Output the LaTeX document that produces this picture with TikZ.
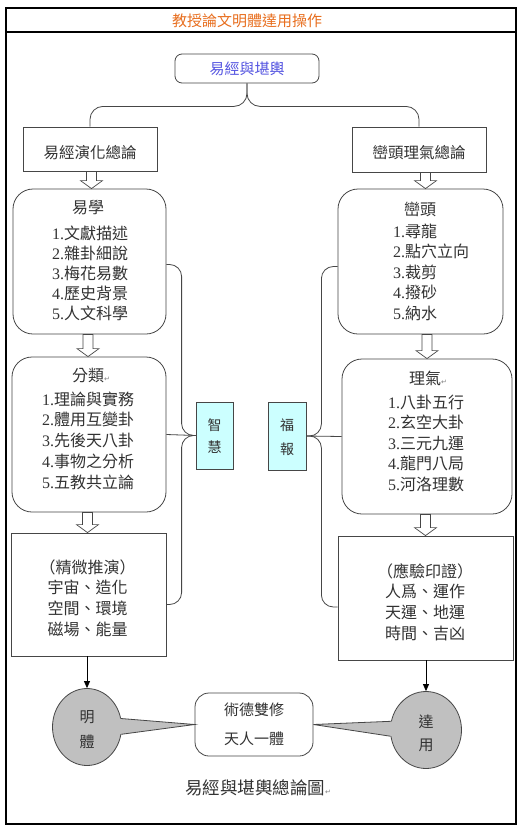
\documentclass[tikz,border=0pt]{standalone}
\usepackage{fontspec}
\setmainfont{Liberation Serif}
\newfontfamily\cjk{Noto Sans CJK TC}
\newfontfamily\dvs{DejaVu Sans}
\usetikzlibrary{calc,shapes.geometric,arrows.meta}
\definecolor{ln}{RGB}{70,70,70}
\definecolor{tx}{RGB}{50,50,50}
\definecolor{ttl}{RGB}{232,110,30}
\definecolor{tbl}{RGB}{85,85,225}
\definecolor{cgray}{RGB}{192,192,192}
\definecolor{ccyan}{RGB}{204,255,255}
\newcommand\pmark{{\dvs\fontsize{7}{7}\selectfont\color{gray}↵}}
\newcommand\blkarr[3]{\draw[hollowarr] let \p1=(#1.south), \p2=(#2.north) in
  ({\x2+(#3)*1pt-5pt},\y1) -- ({\x2+(#3)*1pt-5pt},{\y2+8pt}) -- ({\x2+(#3)*1pt-11pt},{\y2+8pt}) --
  ({\x2+(#3)*1pt},\y2) -- ({\x2+(#3)*1pt+11pt},{\y2+8pt}) -- ({\x2+(#3)*1pt+5pt},{\y2+8pt}) --
  ({\x2+(#3)*1pt+5pt},\y1) -- cycle;}
\begin{document}
\begin{tikzpicture}[x=1pt,y=-1pt,
  outerframe/.style={draw=black, line width=1.2pt},
  conn/.style={draw=ln, line width=0.8pt},
  rbox/.style={draw=ln, line width=0.8pt, fill=white, rounded corners=#1, inner sep=0pt},
  sbox/.style={draw=ln, line width=0.8pt, fill=white, inner sep=0pt},
  txt/.style={inner sep=0pt, text=tx, font=\cjk\fontsize{#1}{#1}\selectfont},
  txt/.default=16,
  hollowarr/.style={draw=ln, line width=0.7pt, fill=white},
  bubble/.style={ellipse, draw=ln, line width=0.8pt, fill=cgray, inner sep=0pt},
  tagbox/.style={draw=ln, line width=0.8pt, fill=ccyan, inner sep=0pt},
  downarr/.style={draw=black, line width=0.8pt, -{Triangle[length=7pt,width=6pt]}}
]
\useasboundingbox (0,0) rectangle (530,833);
\fill[white] (0,0) rectangle (530,833);
% frame and title
\draw[outerframe] (6,8) rectangle (516,824);
\draw[outerframe] (6,32) -- (516,32);
\node[txt=15, text=ttl] (title) at (247,21) {教授論文明體達用操作};

% top node
\node[rbox=7pt, minimum width=144pt, minimum height=29pt, text=tbl,
      font=\cjk\fontsize{15}{15}\selectfont] (top) at (247,68.5) {易經與堪輿};

% second row boxes
\node[sbox, minimum width=134pt, minimum height=44pt] (L1) at (90,149) {};
\node[txt=15.5] (L1t) at (90,153) {易經演化總論};
\node[sbox, minimum width=134pt, minimum height=45pt] (R1) at (419,149.5) {};
\node[txt=15.5] (R1t) at (419,153) {巒頭理氣總論};

% top brace
\coordinate (tb) at ($(top.south)+(0,23)$);
\draw[conn, rounded corners=13pt] (L1.north) |- (tb) -- (top.south);
\draw[conn, rounded corners=13pt] (R1.north) |- (tb) -- (top.south);

% left column
\node[rbox=20pt, minimum width=153pt, minimum height=145pt] (yixue) at (89.5,261.5) {};
\node[txt] (yixueh) at (88,208) {易學};
\foreach \t [count=\i] in {文獻描述,雜卦細說,梅花易數,歷史背景,人文科學}
  \node[txt, anchor=west] (yx\i) at (52,{233+20*(\i-1)}) {\rmfamily\i.\cjk\t};

\node[rbox=20pt, minimum width=154pt, minimum height=155pt] (fenlei) at (89,434.5) {};
\node[txt] (fenleih) at (88,375) {分類\rlap{\pmark}};
\foreach \t [count=\i] in {理論與實務,體用互變卦,先後天八卦,事物之分析,五教共立論}
  \node[txt, anchor=west] (fl\i) at (42,{399+20.75*(\i-1)}) {\rmfamily\i.\cjk\t};

\node[sbox, minimum width=155pt, minimum height=123pt] (jingwei) at (88.5,594.5) {};
\foreach \t [count=\i] in {（精微推演）,宇宙、造化,空間、環境,磁場、能量}
  \node[txt] (jw\i) at (87.5,{567+20.7*(\i-1)}) {\t};

% right column
\node[rbox=20pt, minimum width=165pt, minimum height=145pt] (luantou) at (420.5,261.5) {};
\node[txt] (luantouh) at (420,209) {巒頭};
\foreach \t [count=\i] in {尋龍,點穴立向,裁剪,撥砂,納水}
  \node[txt, anchor=west] (lt\i) at (393,{231+20.5*(\i-1)}) {\rmfamily\i.\cjk\t};

\node[rbox=20pt, minimum width=170pt, minimum height=155pt] (liqi) at (427,436.5) {};
\node[txt] (liqih) at (425,378) {理氣\rlap{\pmark}};
\foreach \t [count=\i] in {八卦五行,玄空大卦,三元九運,龍門八局,河洛理數}
  \node[txt, anchor=west] (lq\i) at (388,{402+20.5*(\i-1)}) {\rmfamily\i.\cjk\t};

\node[sbox, minimum width=175pt, minimum height=124pt] (yingyan) at (425.5,598) {};
\foreach \t [count=\i] in {（應驗印證）,人爲、運作,天運、地運,時間、吉凶}
  \node[txt] (yy\i) at (425,{571+20.7*(\i-1)}) {\t};

% block arrows
\blkarr{L1}{yixue}{2}
\blkarr{yixue}{fenlei}{-1}
\blkarr{fenlei}{jingwei}{-1}
\blkarr{R1}{luantou}{5}
\blkarr{luantou}{liqi}{0}
\blkarr{liqi}{yingyan}{0}

% middle tags
\node[tagbox, minimum width=37pt, minimum height=67pt] (zhihui) at (214.5,435.5) {};
\node[txt=14] (zh1) at (214.5,425) {智};
\node[txt=14] (zh2) at (214.5,447) {慧};
\node[tagbox, minimum width=38pt, minimum height=68pt] (fubao) at (287,436) {};
\node[txt=14] (fb1) at (287,425) {福};
\node[txt=14] (fb2) at (287,449) {報};

% left brace
\coordinate (lb) at ($(zhihui.west)+(-14,0)$);
\draw[conn, rounded corners=12pt] ($(yixue.east)+(0,3)$) -| (lb) -- (zhihui.west);
\draw[conn, rounded corners=12pt] ($(jingwei.east)+(0,10)$) -| (lb) -- (zhihui.west);
\draw[conn] (fenlei.east) -- (zhihui.west);

% right brace
\coordinate (rb) at ($(fubao.east)+(15,0)$);
\draw[conn, rounded corners=12pt] ($(luantou.west)+(0,5)$) -| (rb) -- (fubao.east);
\draw[conn, rounded corners=12pt] ($(yingyan.west)+(0,9)$) -| (rb) -- (fubao.east);
\draw[conn] (liqi.west) -- (fubao.east);

% bottom bubbles
\node[bubble, minimum width=69pt, minimum height=77pt] (mingti) at (87,727) {};
\node[bubble, minimum width=71pt, minimum height=77pt] (dayong) at (426,730) {};
\node[rbox=14pt, minimum width=118pt, minimum height=63pt] (shude) at (254,724.5) {};
\node[txt=15] (sd1) at (254,710) {術德雙修};
\node[txt=15] (sd2) at (254,739) {天人一體};

\fill[cgray] (mingti.14) -- (shude.west) -- (mingti.-12) -- (mingti.center) -- cycle;
\draw[conn] (mingti.14) -- (shude.west) -- (mingti.-12);
\fill[cgray] (dayong.166) -- (shude.east) -- (dayong.190) -- (dayong.center) -- cycle;
\draw[conn] (dayong.166) -- (shude.east) -- (dayong.190);

\node[txt=15] (mt1) at (87,717) {明};
\node[txt=15] (mt2) at (87,742) {體};
\node[txt=15] (dy1) at (426,722) {達};
\node[txt=15] (dy2) at (426,745) {用};

\draw[downarr] (jingwei.south -| mingti.north) -- (mingti.north);
\draw[downarr] (yingyan.south -| dayong.north) -- (dayong.north);

% caption
\node[txt=17.5] (caption) at (255,788) {易經與堪輿總論圖\rlap{\pmark}};
\end{tikzpicture}
\end{document}
